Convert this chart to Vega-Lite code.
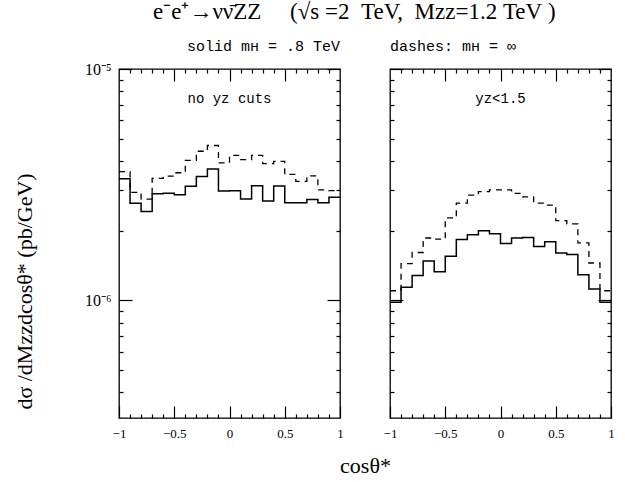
{
  "$schema": "https://vega.github.io/schema/vega-lite/v6.json",
  "padding": {"left": 12, "top": 1, "right": 5, "bottom": 5},
  "background": "white",
  "title": {"text": "e⁻e⁺→νν̄ZZ\u00a0\u00a0\u00a0\u00a0\u00a0(√s\u00a0=2\u00a0\u00a0TeV,\u00a0\u00a0Mᴢᴢ=1.2\u00a0TeV\u00a0)", "font": "Liberation Serif", "fontSize": 23, "fontWeight": "normal", "anchor": "start", "frame": "group", "dx": 34, "offset": 14, "color": "black"},
  "config": {
    "font": "Liberation Serif",
    "axis": {"grid": false, "domain": false, "tickColor": "black", "tickWidth": 1.2, "labelColor": "black", "labelFont": "Liberation Serif", "labelFontSize": 13, "titleColor": "black", "titleFontWeight": "normal", "titleFont": "Liberation Serif", "titleFontSize": 22},
    "view": {"stroke": "black", "strokeWidth": 1.3},
    "title": {"font": "Liberation Mono", "fontSize": 15, "fontWeight": "normal", "color": "black", "frame": "group"}
  },
  "spacing": 50,
  "bounds": "flush",
  "hconcat": [
    {
      "width": 221,
      "height": 349,
      "title": {"text": "solid  mʜ = .8 TeV", "anchor": "end", "offset": 7},
      "data": {"values": [
        {"x": -1.0, "solid": 3.35e-6, "dashed": 3.6e-6},
        {"x": -0.9, "solid": 2.63e-6, "dashed": 2.93e-6},
        {"x": -0.8, "solid": 2.42e-6, "dashed": 2.74e-6},
        {"x": -0.7, "solid": 2.89e-6, "dashed": 3.37e-6},
        {"x": -0.6, "solid": 2.9e-6, "dashed": 3.44e-6},
        {"x": -0.5, "solid": 2.86e-6, "dashed": 3.56e-6},
        {"x": -0.4, "solid": 3.11e-6, "dashed": 4.03e-6},
        {"x": -0.3, "solid": 3.43e-6, "dashed": 4.41e-6},
        {"x": -0.2, "solid": 3.7e-6, "dashed": 4.67e-6},
        {"x": -0.1, "solid": 2.97e-6, "dashed": 3.93e-6},
        {"x": 0.0, "solid": 2.98e-6, "dashed": 4.23e-6},
        {"x": 0.1, "solid": 2.74e-6, "dashed": 4.06e-6},
        {"x": 0.2, "solid": 3.13e-6, "dashed": 4.23e-6},
        {"x": 0.3, "solid": 2.69e-6, "dashed": 3.9e-6},
        {"x": 0.4, "solid": 3.12e-6, "dashed": 3.99e-6},
        {"x": 0.5, "solid": 2.64e-6, "dashed": 3.5e-6},
        {"x": 0.6, "solid": 2.64e-6, "dashed": 3.27e-6},
        {"x": 0.7, "solid": 2.73e-6, "dashed": 3.45e-6},
        {"x": 0.8, "solid": 2.64e-6, "dashed": 3.0e-6},
        {"x": 0.9, "solid": 2.79e-6, "dashed": 2.98e-6},
        {"x": 1.0, "solid": 2.79e-6, "dashed": 2.98e-6}
      ]},
      "layer": [
        {
          "mark": {"type": "line", "interpolate": "step-after", "color": "black", "strokeWidth": 1.5},
          "encoding": {
            "x": {"field": "x", "type": "quantitative", "scale": {"domain": [-1, 1], "nice": false, "zero": false},
              "axis": {"orient": "bottom", "values": [-1, -0.5, 0, 0.5, 1], "tickSize": -12, "labelPadding": 21, "format": "~g", "labelFlush": false,
                "title": "cosθ*", "titleX": 246, "titleY": 47, "titleAlign": "center", "titleBaseline": "middle"}},
            "y": {"field": "solid", "type": "quantitative", "scale": {"type": "log", "domain": [3.1e-7, 1e-5], "nice": false},
              "axis": {"orient": "left", "values": [1e-6, 1e-5], "tickSize": -13, "labelPadding": 21, "labelExpr": "datum.value > 5e-6 ? '10⁻⁵' : '10⁻⁶'", "labelFontSize": 16,
                "title": "dσ /dMᴢᴢdcosθ* (pb/GeV)", "titleX": -95, "titleY": 222, "titleAlign": "center", "titleBaseline": "middle", "titleAngle": -90}}
          }
        },
        {
          "mark": {"type": "line", "interpolate": "step-after", "color": "black", "strokeWidth": 1.3, "strokeDash": [6, 5]},
          "encoding": {
            "x": {"field": "x", "type": "quantitative", "scale": {"domain": [-1, 1], "nice": false, "zero": false},
              "axis": {"orient": "bottom", "values": [-0.9, -0.8, -0.7, -0.6, -0.4, -0.3, -0.2, -0.1, 0.1, 0.2, 0.3, 0.4, 0.6, 0.7, 0.8, 0.9], "tickSize": -4, "labels": false, "title": null}},
            "y": {"field": "dashed", "type": "quantitative", "scale": {"type": "log", "domain": [3.1e-7, 1e-5], "nice": false},
              "axis": {"orient": "left", "values": [4e-7, 5e-7, 6e-7, 7e-7, 8e-7, 9e-7, 2e-6, 3e-6, 4e-6, 5e-6, 6e-6, 7e-6, 8e-6, 9e-6], "tickSize": -4, "labels": false, "title": null}}
          }
        },
        {
          "data": {"values": [{"x": 0, "y": 7.4e-6, "label": "no yᴢ cuts"}]},
          "mark": {"type": "text", "font": "Liberation Mono", "fontSize": 14, "color": "black"},
          "encoding": {
            "x": {"field": "x", "type": "quantitative", "scale": {"domain": [-1, 1], "nice": false, "zero": false},
              "axis": {"orient": "top", "values": [-0.5, 0, 0.5], "tickSize": -12, "labels": false, "title": null}},
            "y": {"field": "y", "type": "quantitative", "scale": {"type": "log", "domain": [3.1e-7, 1e-5], "nice": false},
              "axis": {"orient": "right", "values": [1e-6, 1e-5], "tickSize": -13, "labels": false, "title": null}},
            "text": {"field": "label"}
          }
        },
        {
          "mark": {"type": "point", "opacity": 0},
          "encoding": {
            "x": {"field": "x", "type": "quantitative", "scale": {"domain": [-1, 1], "nice": false, "zero": false},
              "axis": {"orient": "top", "values": [-0.9, -0.8, -0.7, -0.6, -0.4, -0.3, -0.2, -0.1, 0.1, 0.2, 0.3, 0.4, 0.6, 0.7, 0.8, 0.9], "tickSize": -4, "labels": false, "title": null}},
            "y": {"field": "solid", "type": "quantitative", "scale": {"type": "log", "domain": [3.1e-7, 1e-5], "nice": false},
              "axis": {"orient": "right", "values": [4e-7, 5e-7, 6e-7, 7e-7, 8e-7, 9e-7, 2e-6, 3e-6, 4e-6, 5e-6, 6e-6, 7e-6, 8e-6, 9e-6], "tickSize": -4, "labels": false, "title": null}}
          }
        }
      ],
      "resolve": {"axis": {"x": "independent", "y": "independent"}}
    },
    {
      "width": 221,
      "height": 349,
      "title": {"text": "dashes: mʜ = ∞", "anchor": "start", "offset": 14},
      "data": {"values": [
        {"x": -1.0, "solid": 0.98e-6, "dashed": 1.1e-6},
        {"x": -0.9, "solid": 1.14e-6, "dashed": 1.44e-6},
        {"x": -0.8, "solid": 1.28e-6, "dashed": 1.61e-6},
        {"x": -0.7, "solid": 1.48e-6, "dashed": 1.86e-6},
        {"x": -0.6, "solid": 1.33e-6, "dashed": 1.84e-6},
        {"x": -0.5, "solid": 1.55e-6, "dashed": 2.27e-6},
        {"x": -0.4, "solid": 1.83e-6, "dashed": 2.63e-6},
        {"x": -0.3, "solid": 1.92e-6, "dashed": 2.85e-6},
        {"x": -0.2, "solid": 2.0e-6, "dashed": 2.95e-6},
        {"x": -0.1, "solid": 1.94e-6, "dashed": 3.0e-6},
        {"x": 0.0, "solid": 1.76e-6, "dashed": 3.0e-6},
        {"x": 0.1, "solid": 1.86e-6, "dashed": 2.9e-6},
        {"x": 0.2, "solid": 1.87e-6, "dashed": 2.8e-6},
        {"x": 0.3, "solid": 1.71e-6, "dashed": 2.63e-6},
        {"x": 0.4, "solid": 1.79e-6, "dashed": 2.58e-6},
        {"x": 0.5, "solid": 1.6e-6, "dashed": 2.21e-6},
        {"x": 0.6, "solid": 1.58e-6, "dashed": 2.14e-6},
        {"x": 0.7, "solid": 1.29e-6, "dashed": 1.77e-6},
        {"x": 0.8, "solid": 1.12e-6, "dashed": 1.45e-6},
        {"x": 0.9, "solid": 0.98e-6, "dashed": 1.1e-6},
        {"x": 1.0, "solid": 0.98e-6, "dashed": 1.1e-6}
      ]},
      "layer": [
        {
          "mark": {"type": "line", "interpolate": "step-after", "color": "black", "strokeWidth": 1.5},
          "encoding": {
            "x": {"field": "x", "type": "quantitative", "scale": {"domain": [-1, 1], "nice": false, "zero": false},
              "axis": {"orient": "bottom", "values": [-1, -0.5, 0, 0.5, 1], "tickSize": -12, "labelPadding": 21, "format": "~g", "labelFlush": false, "title": null}},
            "y": {"field": "solid", "type": "quantitative", "scale": {"type": "log", "domain": [3.1e-7, 1e-5], "nice": false},
              "axis": {"orient": "left", "values": [1e-6, 1e-5], "tickSize": -13, "labels": false, "title": null}}
          }
        },
        {
          "mark": {"type": "line", "interpolate": "step-after", "color": "black", "strokeWidth": 1.3, "strokeDash": [6, 5]},
          "encoding": {
            "x": {"field": "x", "type": "quantitative", "scale": {"domain": [-1, 1], "nice": false, "zero": false},
              "axis": {"orient": "bottom", "values": [-0.9, -0.8, -0.7, -0.6, -0.4, -0.3, -0.2, -0.1, 0.1, 0.2, 0.3, 0.4, 0.6, 0.7, 0.8, 0.9], "tickSize": -4, "labels": false, "title": null}},
            "y": {"field": "dashed", "type": "quantitative", "scale": {"type": "log", "domain": [3.1e-7, 1e-5], "nice": false},
              "axis": {"orient": "left", "values": [4e-7, 5e-7, 6e-7, 7e-7, 8e-7, 9e-7, 2e-6, 3e-6, 4e-6, 5e-6, 6e-6, 7e-6, 8e-6, 9e-6], "tickSize": -4, "labels": false, "title": null}}
          }
        },
        {
          "data": {"values": [{"x": 0, "y": 7.4e-6, "label": "yᴢ<1.5"}]},
          "mark": {"type": "text", "font": "Liberation Mono", "fontSize": 14, "color": "black"},
          "encoding": {
            "x": {"field": "x", "type": "quantitative", "scale": {"domain": [-1, 1], "nice": false, "zero": false},
              "axis": {"orient": "top", "values": [-0.5, 0, 0.5], "tickSize": -12, "labels": false, "title": null}},
            "y": {"field": "y", "type": "quantitative", "scale": {"type": "log", "domain": [3.1e-7, 1e-5], "nice": false},
              "axis": {"orient": "right", "values": [1e-6, 1e-5], "tickSize": -13, "labels": false, "title": null}},
            "text": {"field": "label"}
          }
        },
        {
          "mark": {"type": "point", "opacity": 0},
          "encoding": {
            "x": {"field": "x", "type": "quantitative", "scale": {"domain": [-1, 1], "nice": false, "zero": false},
              "axis": {"orient": "top", "values": [-0.9, -0.8, -0.7, -0.6, -0.4, -0.3, -0.2, -0.1, 0.1, 0.2, 0.3, 0.4, 0.6, 0.7, 0.8, 0.9], "tickSize": -4, "labels": false, "title": null}},
            "y": {"field": "solid", "type": "quantitative", "scale": {"type": "log", "domain": [3.1e-7, 1e-5], "nice": false},
              "axis": {"orient": "right", "values": [4e-7, 5e-7, 6e-7, 7e-7, 8e-7, 9e-7, 2e-6, 3e-6, 4e-6, 5e-6, 6e-6, 7e-6, 8e-6, 9e-6], "tickSize": -4, "labels": false, "title": null}}
          }
        }
      ],
      "resolve": {"axis": {"x": "independent", "y": "independent"}}
    }
  ]
}
